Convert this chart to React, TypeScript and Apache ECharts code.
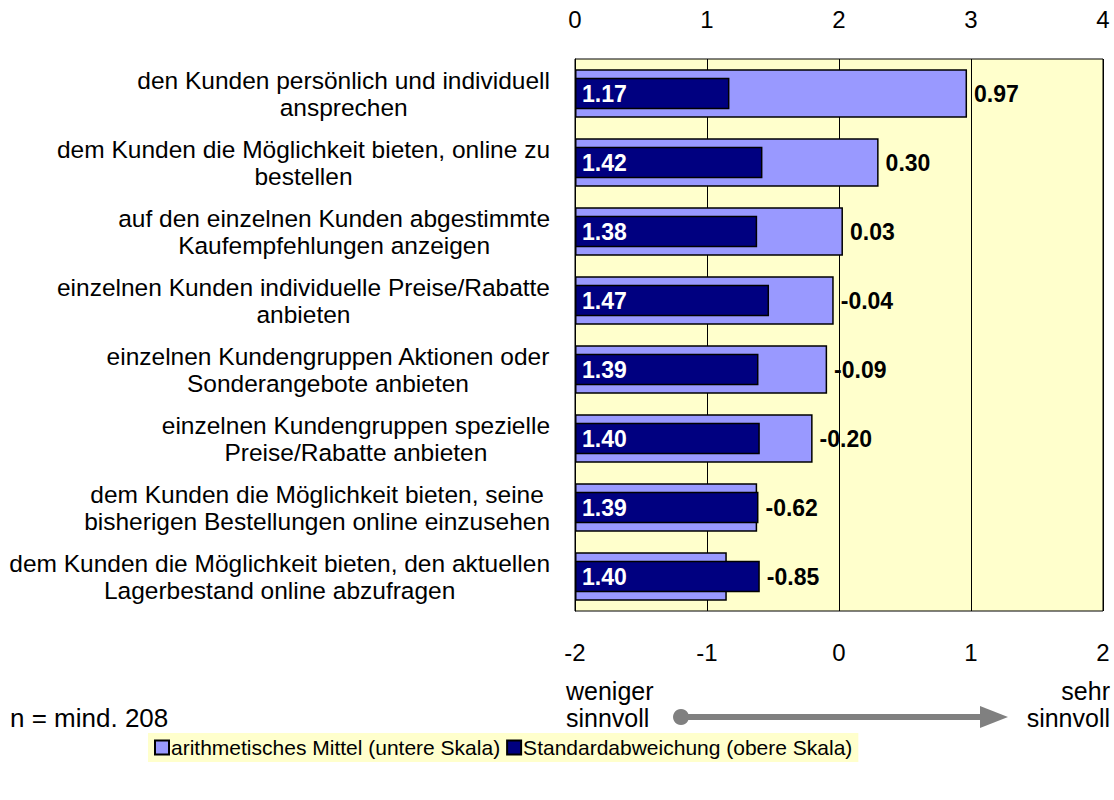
import React, { useEffect, useRef } from "react";
import * as echarts from "echarts";

const categories = [
  "den Kunden persönlich und individuell\nansprechen",
  "dem Kunden die Möglichkeit bieten, online zu\nbestellen",
  "auf den einzelnen Kunden abgestimmte\nKaufempfehlungen anzeigen",
  "einzelnen Kunden individuelle Preise/Rabatte\nanbieten",
  "einzelnen Kundengruppen Aktionen oder\nSonderangebote anbieten",
  "einzelnen Kundengruppen spezielle\nPreise/Rabatte anbieten",
  "dem Kunden die Möglichkeit bieten, seine\nbisherigen Bestellungen online einzusehen",
  "dem Kunden die Möglichkeit bieten, den aktuellen\nLagerbestand online abzufragen",
];
const meanValues = [0.97, 0.3, 0.03, -0.04, -0.09, -0.2, -0.62, -0.85];
const stdValues = [1.17, 1.42, 1.38, 1.47, 1.39, 1.4, 1.39, 1.4];
const bottomScaleMin = -2; // lower scale runs from -2 to 2
const topScale = { min: 0, max: 4, interval: 1 };
const seriesNames = ["arithmetisches Mittel (untere Skala)", "Standardabweichung (obere Skala)"];
const noteText = "n = mind. 208";
const lowText = "weniger\nsinnvoll";
const highText = "sehr\nsinnvoll";

const FONT = "'Liberation Sans', Arial, sans-serif";

export default function App() {
  const ref = useRef<HTMLDivElement>(null);
  useEffect(() => {
    if (!ref.current) return;
    const chart = echarts.init(ref.current, null, { renderer: "svg" });
    const shift = -bottomScaleMin;
    const meanShifted = meanValues.map((m) => +(m + shift).toFixed(4));
    const labelPos = meanValues.map((m, i) => Math.max(m + shift, stdValues[i]));
    const option: any = {
      animation: false,
      textStyle: { fontFamily: FONT, color: "#000" },
      grid: {
        left: 575,
        right: 11,
        top: 59,
        bottom: 189,
        show: true,
        backgroundColor: "#FFFFCC",
        borderColor: "#000",
        borderWidth: 1,
      },
      legend: {
        data: seriesNames,
        left: 148,
        top: 733,
        backgroundColor: "#FFFFCC",
        padding: [4, 6],
        itemGap: 6,
        itemWidth: 14,
        itemHeight: 14,
        icon: "rect",
        textStyle: { fontFamily: FONT, fontSize: 21, color: "#000", padding: [0, 0, 0, -3] },
      },
      xAxis: [
        {
          type: "value",
          position: "bottom",
          min: topScale.min,
          max: topScale.max,
          interval: topScale.interval,
          axisLine: { show: false },
          axisTick: { show: false },
          splitLine: { show: true, lineStyle: { color: "#000", width: 1 } },
          axisLabel: {
            margin: 29,
            fontSize: 24,
            fontFamily: FONT,
            color: "#000",
            formatter: (v: number) => String(v - shift),
          },
        },
        {
          type: "value",
          position: "top",
          min: topScale.min,
          max: topScale.max,
          interval: topScale.interval,
          axisLine: { show: false },
          axisTick: { show: false },
          splitLine: { show: false },
          axisLabel: { margin: 28, fontSize: 24, fontFamily: FONT, color: "#000" },
        },
      ],
      yAxis: [
        {
          type: "category",
          data: categories,
          inverse: true,
          axisLine: { show: true, lineStyle: { color: "#000" } },
          axisTick: { show: false },
          axisLabel: {
            interval: 0,
            margin: 25,
            formatter: (v: string) =>
              v
                .split("\n")
                .map((l) => `{c|${l}}`)
                .join("\n"),
            rich: {
              c: { align: "center", fontSize: 24.5, fontFamily: FONT, color: "#000", lineHeight: 27 },
            },
          },
        },
        {
          type: "category",
          data: categories,
          inverse: true,
          show: false,
        },
      ],
      series: [
        {
          name: seriesNames[0],
          type: "bar",
          xAxisIndex: 0,
          yAxisIndex: 0,
          data: meanShifted,
          barWidth: "70%",
          barGap: "-100%",
          z: 2,
          itemStyle: { color: "#9999FF", borderColor: "#000", borderWidth: 1.5 },
        },
        {
          name: "",
          type: "bar",
          xAxisIndex: 0,
          yAxisIndex: 0,
          data: labelPos,
          barWidth: "70%",
          barGap: "-100%",
          z: 5,
          silent: true,
          itemStyle: { color: "rgba(0,0,0,0)", borderWidth: 0 },
          label: {
            show: true,
            position: "right",
            distance: 7,
            fontFamily: FONT,
            fontSize: 23,
            fontWeight: "bold",
            color: "#000",
            formatter: (p: any) => meanValues[p.dataIndex].toFixed(2),
          },
        },
        {
          name: seriesNames[1],
          type: "bar",
          xAxisIndex: 1,
          yAxisIndex: 1,
          data: stdValues,
          barWidth: "46%",
          z: 3,
          itemStyle: { color: "#000080", borderColor: "#000", borderWidth: 1.5 },
          label: {
            show: true,
            position: "insideLeft",
            distance: 7,
            fontFamily: FONT,
            fontSize: 23,
            fontWeight: "bold",
            color: "#fff",
            formatter: (p: any) => (p.value as number).toFixed(2),
          },
        },
      ],
      graphic: [
        {
          type: "text",
          left: 10,
          top: 705,
          style: { text: noteText, font: `26px ${FONT}`, fill: "#000" },
        },
        {
          type: "text",
          x: 566,
          y: 677,
          style: { text: lowText, font: `25px ${FONT}`, fill: "#000", lineHeight: 27 },
        },
        {
          type: "text",
          x: 1110,
          y: 677,
          style: { text: highText, font: `25px ${FONT}`, fill: "#000", lineHeight: 27, align: "right" },
        },
        {
          type: "line",
          shape: { x1: 681, y1: 717, x2: 984, y2: 717 },
          style: { stroke: "#808080", lineWidth: 6 },
        },
        {
          type: "circle",
          shape: { cx: 681, cy: 717, r: 8 },
          style: { fill: "#808080" },
        },
        {
          type: "polygon",
          shape: { points: [[980, 706], [1008, 717], [980, 728]] },
          style: { fill: "#808080" },
        },
      ],
    };
    chart.setOption(option);
    return () => chart.dispose();
  }, []);
  return (
    <div
      ref={ref}
      style={{ position: "absolute", left: 0, top: 0, width: 1114, height: 800, background: "#fff" }}
    />
  );
}
